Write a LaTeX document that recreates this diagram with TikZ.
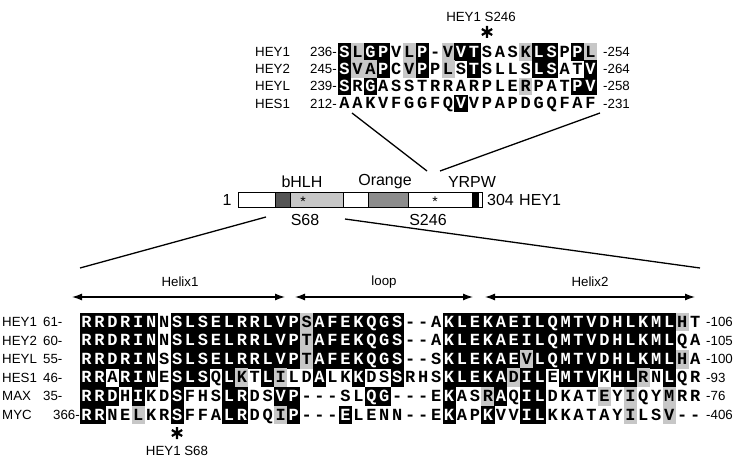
\documentclass[tikz,border=0pt]{standalone}
\usepackage{fontspec}
\setmainfont{Liberation Sans}
\newfontfamily\seqfont{Liberation Mono}
\usetikzlibrary{arrows.meta}
\definecolor{shadeG}{gray}{0.78}
\definecolor{barDark}{gray}{0.33}
\definecolor{barLight}{gray}{0.78}
\definecolor{barMid}{gray}{0.55}
\tikzset{
  res/.style={inner sep=0pt, minimum width=13.15pt, text height=10.2pt, text depth=0pt,
    font=\seqfont\bfseries\fontsize{17}{17}\selectfont},
  shB/.style={fill=black, text=white},
  shG/.style={fill=shadeG, text=black},
  shW/.style={text=black},
  lbl/.style={inner sep=0pt, font=\fontsize{13.3}{13.3}\selectfont},
  barlbl/.style={inner sep=0pt, font=\fontsize{16}{16}\selectfont},
  conn/.style={line width=1.3pt},
  dbl/.style={line width=1.3pt, {Latex[length=10pt,width=7pt]}-{Latex[length=10pt,width=7pt]}},
  seg/.style={draw=black, line width=0.9pt},
  bigast/.pic={\draw[line width=2.2pt] (0,-6) -- (0,6) (-5.2,-3) -- (5.2,3) (-5.2,3) -- (5.2,-3);}
}
\newcommand\alnrow[5]{%
  \foreach \c/\s [count=\i] in {#5}{%
    \node[res, minimum height=#4, sh\s] (#1-\i) at ({#2+(\i-0.5)*12.95}, #3) {\c};
  }}
\begin{document}
\begin{tikzpicture}[x=1pt,y=-1pt]
\useasboundingbox (0,0) rectangle (737,460);

% ---------- top alignment ----------
\node[lbl] (s246) at (481,17) {HEY1 S246};
\pic at (487,32) {bigast};

\alnrow{ta}{338}{52}{17.4pt}{S/B,L/G,G/B,P/B,V/W,L/G,P/B,-/W,V/G,V/B,T/B,S/W,A/W,S/W,K/G,L/B,S/B,P/W,P/B,L/G}
\alnrow{tb}{338}{69.2}{17.4pt}{S/B,V/G,A/G,P/B,C/W,V/G,P/B,P/W,L/G,S/W,T/B,S/W,L/W,L/W,S/W,L/B,S/B,A/W,T/W,V/B}
\alnrow{tc}{338}{86.4}{17.4pt}{S/B,R/W,G/B,A/W,S/W,S/W,T/W,R/W,R/W,A/W,R/W,P/W,L/W,E/W,R/G,P/W,A/W,T/W,P/B,V/B}
\alnrow{td}{338}{103.6}{17.4pt}{A/W,A/W,K/W,V/W,F/W,G/W,G/W,F/W,Q/W,V/B,V/W,P/W,A/W,P/W,D/W,G/W,Q/W,F/W,A/W,F/W}

\node[lbl,anchor=west] (tn1) at (255,52) {HEY1};
\node[lbl,anchor=west] (tn2) at (255,69.2) {HEY2};
\node[lbl,anchor=west] (tn3) at (255,86.4) {HEYL};
\node[lbl,anchor=west] (tn4) at (255,103.6) {HES1};
\node[lbl,anchor=west] (tp1) at (310,52) {236-};
\node[lbl,anchor=west] (tp2) at (310,69.2) {245-};
\node[lbl,anchor=west] (tp3) at (310,86.4) {239-};
\node[lbl,anchor=west] (tp4) at (310,103.6) {212-};
\node[lbl,anchor=west] (te1) at (603,52) {-254};
\node[lbl,anchor=west] (te2) at (603,69.2) {-264};
\node[lbl,anchor=west] (te3) at (603,86.4) {-258};
\node[lbl,anchor=west] (te4) at (603,103.6) {-231};

% ---------- domain bar ----------
\draw[seg, fill=white]    (238,192) rectangle (275,207);
\draw[seg, fill=barDark]  (275,192) rectangle (290,207);
\draw[seg, fill=barLight] (290,192) rectangle (343,207);
\draw[seg, fill=white]    (343,192) rectangle (368,207);
\draw[seg, fill=barMid]   (368,192) rectangle (408,207);
\draw[seg, fill=white]    (408,192) rectangle (472,207);
\draw[seg, fill=black]    (472,192) rectangle (478,207);
\draw[seg, fill=white]    (478,192) rectangle (482,207);
\node[inner sep=0pt, font=\fontsize{14}{14}\selectfont] (a68) at (303,201.5) {*};
\node[inner sep=0pt, font=\fontsize{14}{14}\selectfont] (a246) at (435,201.5) {*};

\node[barlbl] (one) at (227,200) {1};
\node[barlbl,anchor=west] (len) at (487,200) {304};
\node[barlbl,anchor=west] (prot) at (519,200) {HEY1};
\node[barlbl] (bhlh) at (302,182) {bHLH};
\node[barlbl] (orng) at (385,182) {Orange};
\node[barlbl] (yrpw) at (472,182) {YRPW};
\node[barlbl] (s68) at (305,220) {S68};
\node[barlbl] (s246b) at (428,220) {S246};

% ---------- connectors ----------
\coordinate (tl0) at (352,113);
\coordinate (tl1) at (427,171);
\coordinate (tr0) at (600,113);
\coordinate (tr1) at (440,171);
\draw[conn] (tl0) -- (tl1);
\draw[conn] (tr0) -- (tr1);
\coordinate (bl0) at (266,217);
\coordinate (bl1) at (80,268);
\coordinate (br0) at (345,219);
\coordinate (br1) at (700,268);
\draw[conn] (bl0) -- (bl1);
\draw[conn] (br0) -- (br1);

% ---------- helix arrows ----------
\coordinate (h1a) at (72,297);
\coordinate (h1b) at (285,297);
\coordinate (lpa) at (295,297);
\coordinate (lpb) at (473,297);
\coordinate (h2a) at (485,297);
\coordinate (h2b) at (695,297);
\draw[dbl] (h1a) -- (h1b);
\draw[dbl] (lpa) -- (lpb);
\draw[dbl] (h2a) -- (h2b);
\node[lbl] (hx1) at (180,282) {Helix1};
\node[lbl] (lp) at (384,282) {loop};
\node[lbl] (hx2) at (590,282) {Helix2};

% ---------- bottom alignment ----------
\alnrow{ba}{80}{322}{18.8pt}{R/B,R/B,D/B,R/B,I/B,N/B,N/W,S/B,L/B,S/B,E/B,L/B,R/B,R/B,L/B,V/B,P/B,S/G,A/B,F/B,E/B,K/B,Q/B,G/B,S/B,-/W,-/W,A/W,K/B,L/B,E/B,K/B,A/B,E/B,I/B,L/B,Q/B,M/B,T/B,V/B,D/B,H/B,L/B,K/B,M/B,L/B,H/G,T/W}
\alnrow{bb}{80}{340.6}{18.8pt}{R/B,R/B,D/B,R/B,I/B,N/B,N/W,S/B,L/B,S/B,E/B,L/B,R/B,R/B,L/B,V/B,P/B,T/G,A/B,F/B,E/B,K/B,Q/B,G/B,S/B,-/W,-/W,A/W,K/B,L/B,E/B,K/B,A/B,E/B,I/B,L/B,Q/B,M/B,T/B,V/B,D/B,H/B,L/B,K/B,M/B,L/B,Q/W,A/W}
\alnrow{bc}{80}{359.2}{18.8pt}{R/B,R/B,D/B,R/B,I/B,N/B,S/W,S/B,L/B,S/B,E/B,L/B,R/B,R/B,L/B,V/B,P/B,T/G,A/B,F/B,E/B,K/B,Q/B,G/B,S/B,-/W,-/W,S/W,K/B,L/B,E/B,K/B,A/B,E/B,V/G,L/B,Q/B,M/B,T/B,V/B,D/B,H/B,L/B,K/B,M/B,L/B,H/G,A/W}
\alnrow{bd}{80}{377.8}{18.8pt}{R/B,R/B,A/W,R/B,I/B,N/B,E/W,S/B,L/B,S/B,Q/W,L/B,K/G,T/W,L/B,I/G,L/W,D/W,A/B,L/W,K/W,K/B,D/W,S/W,S/B,R/W,H/W,S/W,K/B,L/B,E/B,K/B,A/B,D/G,I/B,L/B,E/W,M/B,T/B,V/B,K/W,H/B,L/B,R/G,N/W,L/B,Q/W,R/W}
\alnrow{be}{80}{396.4}{18.8pt}{R/B,R/B,D/B,H/W,I/B,K/W,D/W,S/B,F/W,H/W,S/W,L/B,R/B,D/W,S/W,V/B,P/B,-/W,-/W,-/W,S/W,L/W,Q/B,G/B,-/W,-/W,-/W,E/W,K/B,A/W,S/W,R/G,A/B,Q/W,I/B,L/B,D/W,K/W,A/W,T/W,E/G,Y/W,I/G,Q/W,Y/W,M/G,R/W,R/W}
\alnrow{bf}{80}{415}{18.8pt}{R/B,R/B,N/W,E/W,L/G,K/W,R/W,S/B,F/W,F/W,A/W,L/B,R/B,D/W,Q/W,I/G,P/B,-/W,-/W,-/W,E/B,L/W,E/W,N/W,N/W,-/W,-/W,E/W,K/B,A/W,P/W,K/B,V/W,V/W,I/B,L/B,K/W,K/W,A/W,T/W,A/W,Y/W,I/G,L/W,S/W,V/G,-/W,-/W}

\node[lbl,anchor=west] (bn1) at (2,322) {HEY1};
\node[lbl,anchor=west] (bn2) at (2,340.6) {HEY2};
\node[lbl,anchor=west] (bn3) at (2,359.2) {HEYL};
\node[lbl,anchor=west] (bn4) at (2,377.8) {HES1};
\node[lbl,anchor=west] (bn5) at (2,396.4) {MAX};
\node[lbl,anchor=west] (bn6) at (2,415) {MYC};
\node[lbl,anchor=west] (bp1) at (43,322) {61-};
\node[lbl,anchor=west] (bp2) at (43,340.6) {60-};
\node[lbl,anchor=west] (bp3) at (43,359.2) {55-};
\node[lbl,anchor=west] (bp4) at (43,377.8) {46-};
\node[lbl,anchor=west] (bp5) at (43,396.4) {35-};
\node[lbl,anchor=west] (bp6) at (53,415) {366-};
\node[lbl,anchor=west] (be1) at (706,322) {-106};
\node[lbl,anchor=west] (be2) at (706,340.6) {-105};
\node[lbl,anchor=west] (be3) at (706,359.2) {-100};
\node[lbl,anchor=west] (be4) at (706,377.8) {-93};
\node[lbl,anchor=west] (be5) at (706,396.4) {-76};
\node[lbl,anchor=west] (be6) at (706,415) {-406};

\pic at (177,433) {bigast};
\node[lbl] (s68b) at (177,451) {HEY1 S68};
\end{tikzpicture}
\end{document}
